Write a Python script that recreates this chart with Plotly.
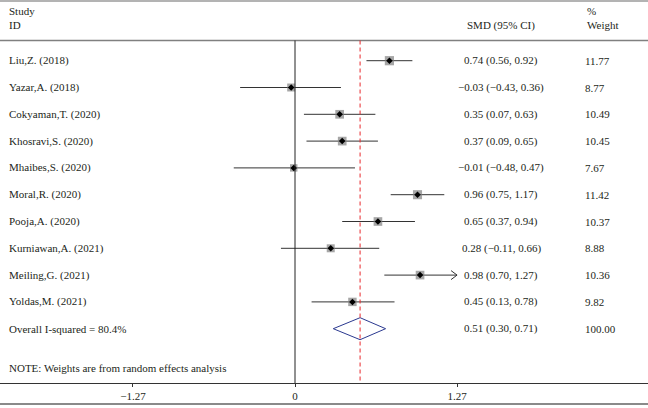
import plotly.graph_objects as go

# ---- data ----
studies = ["Liu,Z. (2018)", "Yazar,A. (2018)", "Cokyaman,T. (2020)", "Khosravi,S. (2020)",
           "Mhaibes,S. (2020)", "Moral,R. (2020)", "Pooja,A. (2020)", "Kurniawan,A. (2021)",
           "Meiling,G. (2021)", "Yoldas,M. (2021)"]
smd = [0.74, -0.03, 0.35, 0.37, -0.01, 0.96, 0.65, 0.28, 0.98, 0.45]
ci_lo = [0.56, -0.43, 0.07, 0.09, -0.48, 0.75, 0.37, -0.11, 0.70, 0.13]
ci_hi = [0.92, 0.36, 0.63, 0.65, 0.47, 1.17, 0.94, 0.66, 1.27, 0.78]
weights = [11.77, 8.77, 10.49, 10.45, 7.67, 11.42, 10.37, 8.88, 10.36, 9.82]
overall_label = "Overall I-squared = 80.4%"
overall_est, overall_lo, overall_hi, overall_w = 0.51, 0.30, 0.71, 100.00
tick_vals = [-1.27, 0, 1.27]
tick_text = ["\u22121.27", "0", "1.27"]
axis_max = 1.27
note = "NOTE: Weights are from random effects analysis"

# ---- layout helpers ----
W, H = 648, 408
AX_Y = 383          # pixel row of the x axis line
ROW0, ROW_STEP = 60.7, 26.8
FONT = "Liberation Serif"
TXT = "#231f20"
zero_px, unit_px = 295.0, 127.6


def fmt(v):
    return f"{v:.2f}".replace("-", "\u2212")


def px(x):
    return x / W


rows = [ROW0 + i * ROW_STEP for i in range(len(studies))]
y_overall = ROW0 + len(studies) * ROW_STEP

fig = go.Figure()

# confidence-interval lines
fig.add_trace(go.Scatter(
    x=smd, y=rows, mode="markers",
    marker=dict(size=1, color="rgba(0,0,0,0)"),
    error_x=dict(type="data", symmetric=False,
                 array=[h - e for h, e in zip(ci_hi, smd)],
                 arrayminus=[e - l for e, l in zip(smd, ci_lo)],
                 color="#333333", thickness=1, width=0),
    hoverinfo="skip", showlegend=False))

# open chevron for CIs truncated at the axis limit
chev_x, chev_y = [], []
for h, y in zip(ci_hi, rows):
    if h >= axis_max:
        d = 6 / unit_px
        chev_x += [axis_max - d, axis_max, axis_max - d, None]
        chev_y += [y - 4.5, y, y + 4.5, None]
fig.add_trace(go.Scatter(x=chev_x, y=chev_y, mode="lines",
                         line=dict(color="#333333", width=1),
                         hoverinfo="skip", showlegend=False))

# weight squares
fig.add_trace(go.Scatter(
    x=smd, y=rows, mode="markers",
    marker=dict(symbol="square", size=[8.5 * (w / 10) ** 0.5 for w in weights],
                color="#808080", line=dict(width=0)),
    hoverinfo="skip", showlegend=False))

# point estimate dots
fig.add_trace(go.Scatter(
    x=smd, y=rows, mode="markers",
    marker=dict(symbol="diamond", size=5, color="black", line=dict(width=0)),
    hoverinfo="skip", showlegend=False))

# overall diamond
fig.add_trace(go.Scatter(
    x=[overall_lo, overall_est, overall_hi, overall_est, overall_lo],
    y=[y_overall, y_overall - 11, y_overall, y_overall + 11, y_overall],
    mode="lines", line=dict(color="#2b3990", width=1),
    hoverinfo="skip", showlegend=False))

shapes = [
    dict(type="line", xref="paper", yref="y", x0=0, x1=1, y0=1, y1=1,
         line=dict(color="#9a9a9a", width=1.5)),
    dict(type="line", xref="paper", yref="y", x0=0, x1=1, y0=40.5, y1=40.5,
         line=dict(color="#808080", width=1.5)),
    dict(type="line", xref="x", yref="y", x0=0, x1=0, y0=40.5, y1=AX_Y,
         line=dict(color="#222222", width=1)),
    dict(type="line", xref="x", yref="y", x0=overall_est, x1=overall_est, y0=40.5, y1=AX_Y,
         line=dict(color="#e8282b", width=1, dash="4px,3px")),
    dict(type="line", xref="paper", yref="paper", x0=0, x1=1,
         y0=-(404 - AX_Y) / AX_Y, y1=-(404 - AX_Y) / AX_Y,
         line=dict(color="#8a8a8a", width=2)),
]

ann = []


def text(x, y, s, anchor="left"):
    ann.append(dict(x=px(x), y=y, xref="paper", yref="y", text=s, showarrow=False,
                    xanchor=anchor, yanchor="middle",
                    font=dict(family=FONT, size=11, color=TXT)))


text(7, 11, "Study")
text(7, 25, "ID")
text(465, 25, "SMD (95% CI)")
text(585, 11, "%")
text(585, 25, "Weight")

for s, e, l, h, w, y in zip(studies, smd, ci_lo, ci_hi, weights, rows):
    text(7, y, s)
    text(501, y, f"{fmt(e)} ({fmt(l)}, {fmt(h)})", "center")
    text(583, y, f"{w:.2f}")

text(7, y_overall, overall_label)
text(501, y_overall, f"{fmt(overall_est)} ({fmt(overall_lo)}, {fmt(overall_hi)})", "center")
text(583, y_overall, f"{overall_w:.2f}")
text(7, 368, note)

x_range = [(0 - zero_px) / unit_px, (W - zero_px) / unit_px]

fig.update_layout(
    width=W, height=H,
    margin=dict(l=0, r=0, t=0, b=H - AX_Y),
    paper_bgcolor="white", plot_bgcolor="white",
    shapes=shapes, annotations=ann,
    xaxis=dict(range=x_range, domain=[0, 1], showgrid=False, zeroline=False,
               showline=True, linecolor="#333333", linewidth=1,
               ticks="outside", ticklen=3, tickcolor="#333333",
               tickvals=tick_vals, ticktext=tick_text,
               tickfont=dict(family=FONT, size=11, color=TXT), fixedrange=True),
    yaxis=dict(range=[AX_Y, 0], showgrid=False, zeroline=False, showline=False,
               showticklabels=False, ticks="", fixedrange=True),
)

fig.write_html("out.html", config={"displayModeBar": False},
               post_script="document.body.style.margin='0';document.body.style.overflow='hidden';")
